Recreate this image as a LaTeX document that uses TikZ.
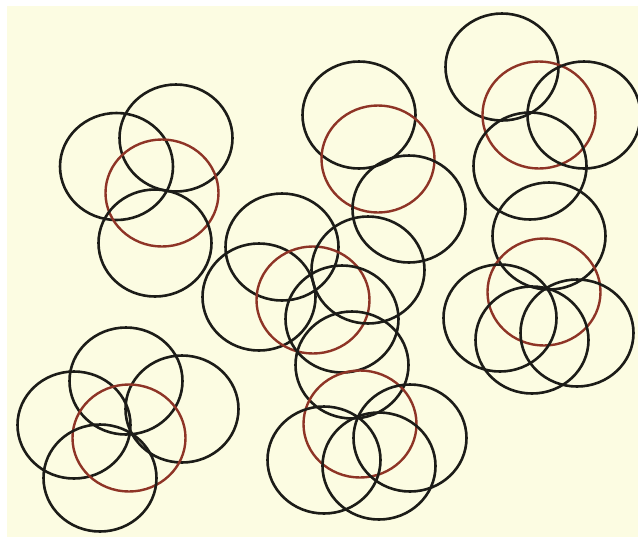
\documentclass[tikz,border=0pt]{standalone}
\usepackage{xcolor}
\definecolor{paper}{HTML}{FCFCE2}
\definecolor{ink}{HTML}{1C1C18}
\definecolor{rust}{HTML}{8E3426}
\tikzset{
  ring/.style={draw=ink, line width=2.6pt},
  redring/.style={draw=rust, line width=2.4pt},
}
\newcommand{\blk}[1]{\draw[ring] #1 ellipse [x radius=56.5, y radius=53.5];}
\newcommand{\rdd}[1]{\draw[redring] #1 ellipse [x radius=56.5, y radius=53.5];}
\begin{document}
\begin{tikzpicture}[x=1pt,y=-1pt]
\useasboundingbox (0,0) rectangle (638,539);
\fill[white] (0,0) rectangle (638,539);
\fill[paper] (7,6) rectangle (638,537);
% group top-left
\blk{(116.5,166.5)}
\blk{(176,138)}
\rdd{(162,193)}
\blk{(155,243)}
% group top-middle
\blk{(359,115)}
\rdd{(378,159)}
\blk{(409,209)}
% group top-right
\blk{(502,67)}
\rdd{(539,115)}
\blk{(584,115)}
\blk{(530,166)}
% group right
\blk{(549,236)}
\rdd{(544,292)}
\blk{(500,318)}
\blk{(532,340)}
\blk{(577,333)}
% group centre
\blk{(282,247)}
\blk{(259,297)}
\rdd{(313,300)}
\blk{(368,270)}
\blk{(342,319)}
\blk{(352,365)}
% group bottom-middle
\rdd{(360,424)}
\blk{(324,460)}
\blk{(379,466)}
\blk{(410,438)}
% group bottom-left
\blk{(126,381)}
\blk{(74,425)}
\blk{(182,409)}
\rdd{(129,438)}
\blk{(100,478)}
\end{tikzpicture}
\end{document}
